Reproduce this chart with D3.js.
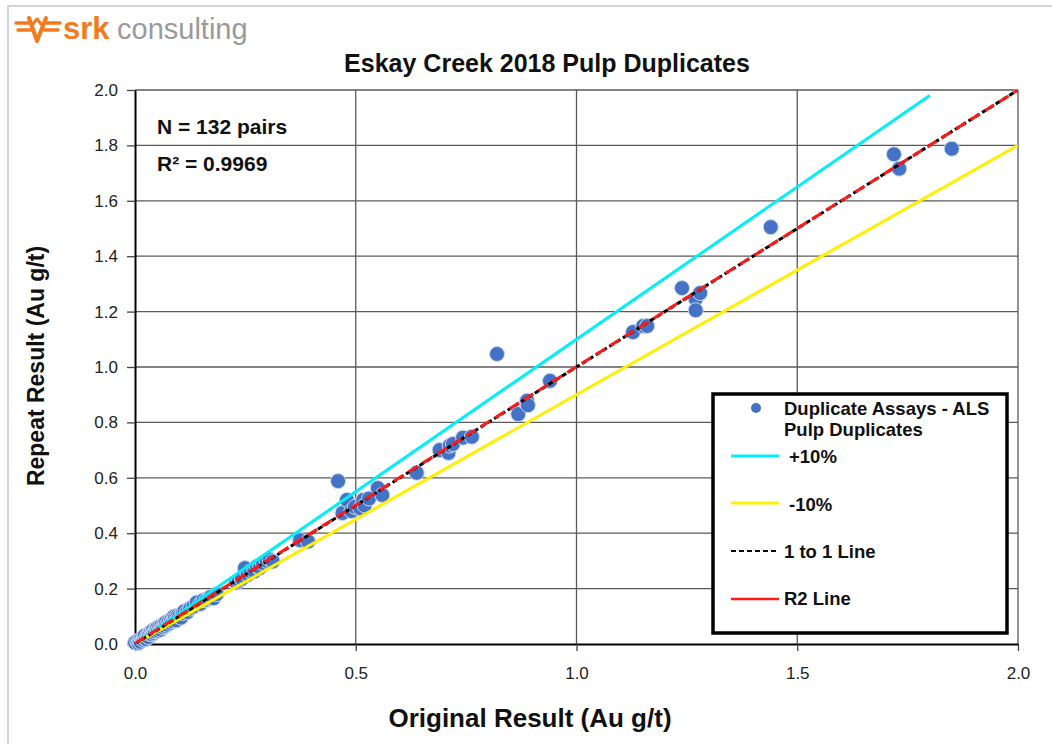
<!DOCTYPE html>
<html>
<head>
<meta charset="utf-8">
<script src="https://cdn.jsdelivr.net/npm/d3@7"></script>
<style>
  body { margin: 0; background: #fff; }
  svg text { font-family: "Liberation Sans", Arial, sans-serif; }
</style>
</head>
<body>
<div id="chart"></div>
<script>
// Original vs repeat assay values (Au g/t)
const originalVals = [
    0.000, 0.005, 0.008, 0.010, 0.012, 0.015, 0.018, 0.020, 0.022, 0.025,
    0.028, 0.030, 0.032, 0.035, 0.038, 0.040, 0.042, 0.045, 0.048, 0.050,
    0.052, 0.055, 0.058, 0.060, 0.063, 0.066, 0.068, 0.070, 0.073, 0.076,
    0.080, 0.082, 0.085, 0.088, 0.090, 0.093, 0.096, 0.100, 0.104, 0.108,
    0.112, 0.118, 0.125, 0.132, 0.140, 0.148, 0.155, 0.162, 0.168, 0.172,
    0.178, 0.185, 0.230, 0.235, 0.242, 0.249, 0.255, 0.262, 0.270, 0.276,
    0.283, 0.290, 0.298, 0.305, 0.312, 0.374, 0.392, 0.460, 0.470, 0.480,
    0.490, 0.498, 0.510, 0.517, 0.520, 0.530, 0.550, 0.560, 0.638, 0.690,
    0.710, 0.713, 0.720, 0.743, 0.763, 0.820, 0.868, 0.888, 0.890, 0.940,
    1.128, 1.151, 1.160, 1.239, 1.270, 1.270, 1.280, 1.440, 1.719, 1.731,
    1.850
];
const repeatVals = [
    0.005, 0.010, 0.004, 0.012, 0.008, 0.020, 0.015, 0.022, 0.030, 0.018,
    0.030, 0.025, 0.038, 0.040, 0.035, 0.048, 0.040, 0.046, 0.055, 0.058,
    0.048, 0.062, 0.052, 0.066, 0.060, 0.072, 0.065, 0.078, 0.070, 0.080,
    0.076, 0.088, 0.082, 0.098, 0.092, 0.085, 0.102, 0.100, 0.095, 0.112,
    0.118, 0.115, 0.128, 0.135, 0.150, 0.145, 0.158, 0.160, 0.166, 0.170,
    0.165, 0.180, 0.222, 0.228, 0.236, 0.274, 0.250, 0.262, 0.262, 0.280,
    0.275, 0.292, 0.300, 0.305, 0.298, 0.375, 0.370, 0.588, 0.473, 0.520,
    0.480, 0.495, 0.490, 0.520, 0.500, 0.525, 0.563, 0.538, 0.618, 0.700,
    0.690, 0.716, 0.722, 0.745, 0.748, 1.047, 0.830, 0.878, 0.862, 0.950,
    1.126, 1.148, 1.148, 1.285, 1.246, 1.205, 1.267, 1.505, 1.768, 1.716,
    1.788
];

const xTicks = [0.0, 0.5, 1.0, 1.5, 2.0];
const yTicks = [0.0, 0.2, 0.4, 0.6, 0.8, 1.0, 1.2, 1.4, 1.6, 1.8, 2.0];

// Reference lines (start and end points)
const plus10Line = [[0, 0], [1.8, 1.98]];
const minus10Line = [[0, 0], [2.0, 1.8]];
const oneToOneLine = [[0, 0], [2.0, 2.0]];
const r2Line = [[0, 0.002], [2.0, 2.0]];

const legendLabels = ["Duplicate Assays - ALS", "+10%", "-10%", "1 to 1 Line", "R2 Line"];

const svgWidth = 1052;
const svgHeight = 744;
const plot = { left: 135, right: 1018, top: 90, bottom: 644 };

const svg = d3.select('#chart').append('svg')
    .attr('width', svgWidth)
    .attr('height', svgHeight);

// Outer frame
svg.append('path')
    .attr('d', `M8,${svgHeight} V6 H${svgWidth}`)
    .attr('fill', 'none')
    .attr('stroke', '#c8c8c8')
    .attr('stroke-width', 1.5);

// srk logo
const logo = svg.append('g').attr('stroke', '#F47A20').attr('fill', 'none')
    .attr('stroke-width', 3.5).attr('stroke-linecap', 'round').attr('stroke-linejoin', 'round');
logo.append('path').attr('d', 'M16,23 H31 M18,30 H31 M44,23 H60 M44,30 H58');
logo.append('path').attr('d', 'M29,18 L37,41 L46,18').attr('stroke-width', 4);
logo.append('path').attr('d', 'M33,24 L37,19 L41,24').attr('stroke-width', 3);

svg.append('text')
    .attr('x', 63).attr('y', 39)
    .attr('font-size', 31).attr('font-weight', 'bold')
    .attr('fill', '#F47A20')
    .text('srk');
svg.append('text')
    .attr('x', 117).attr('y', 39)
    .attr('font-size', 29)
    .attr('fill', '#9a9a9a')
    .text('consulting');

const xScale = d3.scaleLinear().domain([0, 2]).range([plot.left, plot.right]);
const yScale = d3.scaleLinear().domain([0, 2]).range([plot.bottom, plot.top]);

// Gridlines
svg.append('g')
    .selectAll('line')
    .data(yTicks.slice(1))
    .enter()
    .append('line')
    .attr('x1', plot.left).attr('x2', plot.right)
    .attr('y1', d => yScale(d)).attr('y2', d => yScale(d))
    .attr('stroke', '#5a5a5a').attr('stroke-width', 1.3);

svg.append('g')
    .selectAll('line')
    .data(xTicks.slice(1))
    .enter()
    .append('line')
    .attr('y1', plot.top).attr('y2', plot.bottom)
    .attr('x1', d => xScale(d)).attr('x2', d => xScale(d))
    .attr('stroke', '#5a5a5a').attr('stroke-width', 1.3);

// Axes
const xAxis = svg.append('g')
    .attr('transform', `translate(0,${plot.bottom})`)
    .call(d3.axisBottom(xScale).tickValues(xTicks).tickFormat(d3.format('.1f')).tickSize(7).tickSizeOuter(0).tickPadding(16));
const yAxis = svg.append('g')
    .attr('transform', `translate(${plot.left},0)`)
    .call(d3.axisLeft(yScale).tickValues(yTicks).tickFormat(d3.format('.1f')).tickSize(8).tickSizeOuter(0).tickPadding(9));

[xAxis, yAxis].forEach(ax => {
    ax.select('.domain').attr('stroke', '#000').attr('stroke-width', 2);
    ax.selectAll('.tick line').attr('stroke', '#444').attr('stroke-width', 1.3);
    ax.selectAll('.tick text')
        .attr('font-size', 17)
        .attr('fill', '#222')
        .style('font-family', '"Liberation Sans", Arial, sans-serif');
});

// Clip for the reference lines
svg.append('defs').append('clipPath').attr('id', 'plot-clip')
    .append('rect')
    .attr('x', plot.left).attr('y', plot.top)
    .attr('width', plot.right - plot.left).attr('height', plot.bottom - plot.top);

const lineGen = d3.line().x(d => xScale(d[0])).y(d => yScale(d[1]));

// Points
const points = originalVals.map((v, i) => ({ x: v, y: repeatVals[i] }));

svg.append('g')
    .selectAll('circle')
    .data(points)
    .enter()
    .append('circle')
    .attr('cx', d => xScale(d.x))
    .attr('cy', d => yScale(d.y))
    .attr('r', 7.5)
    .attr('fill', '#4472C4')
    .attr('stroke', '#c9d6ee')
    .attr('stroke-width', 1);

// Lines drawn over the points
const linesTop = svg.append('g').attr('clip-path', 'url(#plot-clip)');
linesTop.append('path').datum(plus10Line)
    .attr('d', lineGen).attr('fill', 'none')
    .attr('stroke', '#00F0F8').attr('stroke-width', 3);
linesTop.append('path').datum(minus10Line)
    .attr('d', lineGen).attr('fill', 'none')
    .attr('stroke', '#FFF000').attr('stroke-width', 3);
linesTop.append('path').datum(oneToOneLine)
    .attr('d', lineGen).attr('fill', 'none')
    .attr('stroke', '#000').attr('stroke-width', 3)
    .attr('stroke-dasharray', '5,3');
linesTop.append('path').datum(r2Line)
    .attr('d', lineGen).attr('fill', 'none')
    .attr('stroke', '#FF1A1A').attr('stroke-width', 3)
    .attr('stroke-dasharray', '11,6');

// Title
svg.append('text')
    .attr('x', 547).attr('y', 72)
    .attr('text-anchor', 'middle')
    .attr('font-size', 25).attr('font-weight', 'bold')
    .attr('fill', '#111')
    .text('Eskay Creek 2018 Pulp Duplicates');

// Axis labels
svg.append('text')
    .attr('x', 530).attr('y', 727)
    .attr('text-anchor', 'middle')
    .attr('font-size', 26).attr('font-weight', 'bold')
    .attr('fill', '#111')
    .text('Original Result (Au g/t)');

svg.append('text')
    .attr('transform', 'rotate(-90)')
    .attr('x', -366).attr('y', 44)
    .attr('text-anchor', 'middle')
    .attr('font-size', 23).attr('font-weight', 'bold')
    .attr('fill', '#111')
    .text('Repeat Result (Au g/t)');

// Stats annotation
svg.append('text')
    .attr('x', 157).attr('y', 134)
    .attr('font-size', 21).attr('font-weight', 'bold')
    .attr('fill', '#111')
    .text('N = 132 pairs');
svg.append('text')
    .attr('x', 157).attr('y', 171)
    .attr('font-size', 21).attr('font-weight', 'bold')
    .attr('fill', '#111')
    .text('R² = 0.9969');

// Legend
const legend = svg.append('g');
legend.append('rect')
    .attr('x', 713).attr('y', 394)
    .attr('width', 294).attr('height', 239)
    .attr('fill', '#fff')
    .attr('stroke', '#000').attr('stroke-width', 3.5);

legend.append('circle')
    .attr('cx', 756).attr('cy', 408).attr('r', 5)
    .attr('fill', '#4472C4');

const legendText = (x, y, t) => legend.append('text')
    .attr('x', x).attr('y', y)
    .attr('font-size', 18.5).attr('font-weight', 'bold')
    .attr('fill', '#111')
    .text(t);

legendText(784, 415, legendLabels[0]);
legendText(784, 436, 'Pulp Duplicates');

legend.append('line').attr('x1', 731).attr('x2', 779).attr('y1', 456).attr('y2', 456)
    .attr('stroke', '#00F0F8').attr('stroke-width', 3);
legendText(789, 463, legendLabels[1]);

legend.append('line').attr('x1', 731).attr('x2', 779).attr('y1', 503).attr('y2', 503)
    .attr('stroke', '#FFF000').attr('stroke-width', 3);
legendText(789, 511, legendLabels[2]);

legend.append('line').attr('x1', 731).attr('x2', 779).attr('y1', 551).attr('y2', 551)
    .attr('stroke', '#000').attr('stroke-width', 2)
    .attr('stroke-dasharray', '5,3');
legendText(784, 558, legendLabels[3]);

legend.append('line').attr('x1', 731).attr('x2', 779).attr('y1', 599).attr('y2', 599)
    .attr('stroke', '#FF1A1A').attr('stroke-width', 2.5);
legendText(784, 605, legendLabels[4]);
</script>
</body>
</html>
